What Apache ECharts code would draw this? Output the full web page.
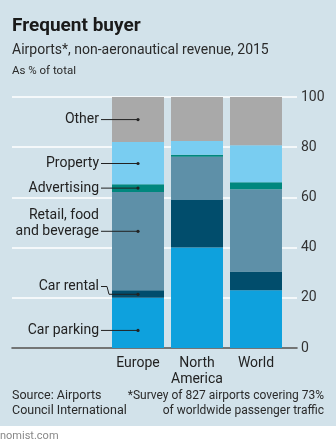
<!DOCTYPE html>
<html>
<head>
<meta charset="utf-8">
<script src="https://cdn.jsdelivr.net/npm/echarts@6/dist/echarts.min.js"></script>
<style>
html,body{margin:0;padding:0;background:#fff;}
#wrap{width:336px;height:448px;background:linear-gradient(#d2e2ea 0,#d2e2ea 426px,#ffffff 426px);}
#chart{width:336px;height:448px;}
</style>
</head>
<body>
<div id="wrap"><div id="chart"></div></div>
<script>
// ---- data ----
var categories = ['Europe', 'North\nAmerica', 'World'];
var carParking  = [20, 40, 23];
var carRental   = [3, 19, 7.5];
var retail      = [39.2, 17.2, 32.7];
var advertising = [3, 0.8, 2.8];
var property    = [16.9, 5.5, 14.8];
var other       = [17.9, 17.5, 19.2];
var yTicks = [0, 20, 40, 60, 80, 100];
var seriesNames = ['Car parking', 'Car rental', 'Retail, food\nand beverage', 'Advertising', 'Property', 'Other'];
var seriesData = [carParking, carRental, retail, advertising, property, other];
var colors = ['#0ea1dd', '#014d6c', '#5e90a8', '#00877e', '#79cdf1', '#a9a9a9'];
// value (on Europe bar) at which each label's leader points
var leaderValue = [7, 21.4, 46.5, 63.7, 73.5, 91];
var labelValue  = [7, 24.5, 46.5, 63.7, 73.5, 91];

var FONT = 'Roboto';
var chart = echarts.init(document.getElementById('chart'), null, {renderer: 'canvas'});

var series = seriesData.map(function (d, i) {
  return {
    name: seriesNames[i], type: 'bar', stack: 'all',
    xAxisIndex: 0, yAxisIndex: 0,
    data: d, barWidth: 52,
    itemStyle: {color: colors[i]},
    z: 3
  };
});

var option = {
  backgroundColor: 'transparent',
  animation: false,
  textStyle: {fontFamily: FONT},
  grid: [
    {left: 108.5, width: 177, top: 97, bottom: 100},
    {left: 12, right: 39, top: 97, bottom: 100}
  ],
  xAxis: [
    {type: 'category', gridIndex: 0, data: categories,
     axisLine: {show: false}, axisTick: {show: false},
     axisLabel: {interval: 0, color: '#222', fontSize: 14, fontFamily: FONT, margin: 7, lineHeight: 16}},
    {type: 'value', gridIndex: 1, min: 0, max: 1, show: true,
     axisLine: {show: true, onZero: false, lineStyle: {color: '#4a4a4a', width: 1.5}},
     axisTick: {show: false}, axisLabel: {show: false}, splitLine: {show: false}}
  ],
  yAxis: [
    {type: 'value', gridIndex: 0, min: 0, max: 100, interval: 20, show: false},
    {type: 'value', gridIndex: 1, min: 0, max: 100, interval: 20, position: 'right',
     axisLine: {show: false}, axisTick: {show: false},
     axisLabel: {color: '#333', fontSize: 14, fontFamily: FONT, margin: 4,
       formatter: function (v) { return yTicks.indexOf(v) >= 0 ? String(v) : ''; }},
     splitLine: {show: true, lineStyle: {color: '#ffffff', width: 1.5}}}
  ],
  series: series
};
chart.setOption(option);

// annotations: titles, leader labels, footnotes
var g = [];
g.push({type: 'text', left: 12, top: 17, style: {text: 'Frequent buyer', font: 'bold 19px ' + FONT, fill: '#1a1a1a'}});
g.push({type: 'text', left: 12, top: 43, style: {text: 'Airports*, non-aeronautical revenue, 2015', font: '14px ' + FONT, fill: '#2a2a2a'}});
g.push({type: 'text', left: 12, top: 65, style: {text: 'As % of total', font: '11.5px ' + FONT, fill: '#2a2a2a'}});

var labelRight = 99;
seriesNames.forEach(function (name, i) {
  var pL = chart.convertToPixel({xAxisIndex: 0, yAxisIndex: 0}, [0, labelValue[i]]);
  var pD = chart.convertToPixel({xAxisIndex: 0, yAxisIndex: 0}, [0, leaderValue[i]]);
  var lines = name.split('\n');
  var lh = 16;
  lines.forEach(function (ln, k) {
    var y = pL[1] - (lines.length - 1 - k) * lh;
    g.push({type: 'text', x: labelRight, y: y, z: 10,
      style: {text: ln, font: '14px ' + FONT, fill: '#222', align: 'right', verticalAlign: 'middle'}});
  });
  var pts;
  if (Math.abs(pL[1] - pD[1]) > 1) {
    pts = [[labelRight + 2, pL[1]], [labelRight + 8, pL[1]], [labelRight + 10, pD[1]], [pD[0], pD[1]]];
  } else {
    pts = [[labelRight + 2, pL[1]], [pD[0], pD[1]]];
  }
  g.push({type: 'polyline', z: 10, shape: {points: pts}, style: {stroke: '#222', lineWidth: 1, fill: null}});
  g.push({type: 'circle', z: 10, shape: {cx: pD[0], cy: pD[1], r: 1.6}, style: {fill: '#222'}});
});

g.push({type: 'text', x: 12, y: 388, style: {text: 'Source: Airports\nCouncil International', font: '12.5px ' + FONT, fill: '#2a2a2a', lineHeight: 15}});
g.push({type: 'text', x: 324, y: 388, style: {text: '*Survey of 827 airports covering 73%\nof worldwide passenger traffic', font: '12px ' + FONT, fill: '#2a2a2a', lineHeight: 15, align: 'right'}});
g.push({type: 'text', x: 0, y: 431, style: {text: 'nomist.com', font: '11px ' + FONT, fill: '#888'}});

chart.setOption({graphic: g});
</script>
</body>
</html>
